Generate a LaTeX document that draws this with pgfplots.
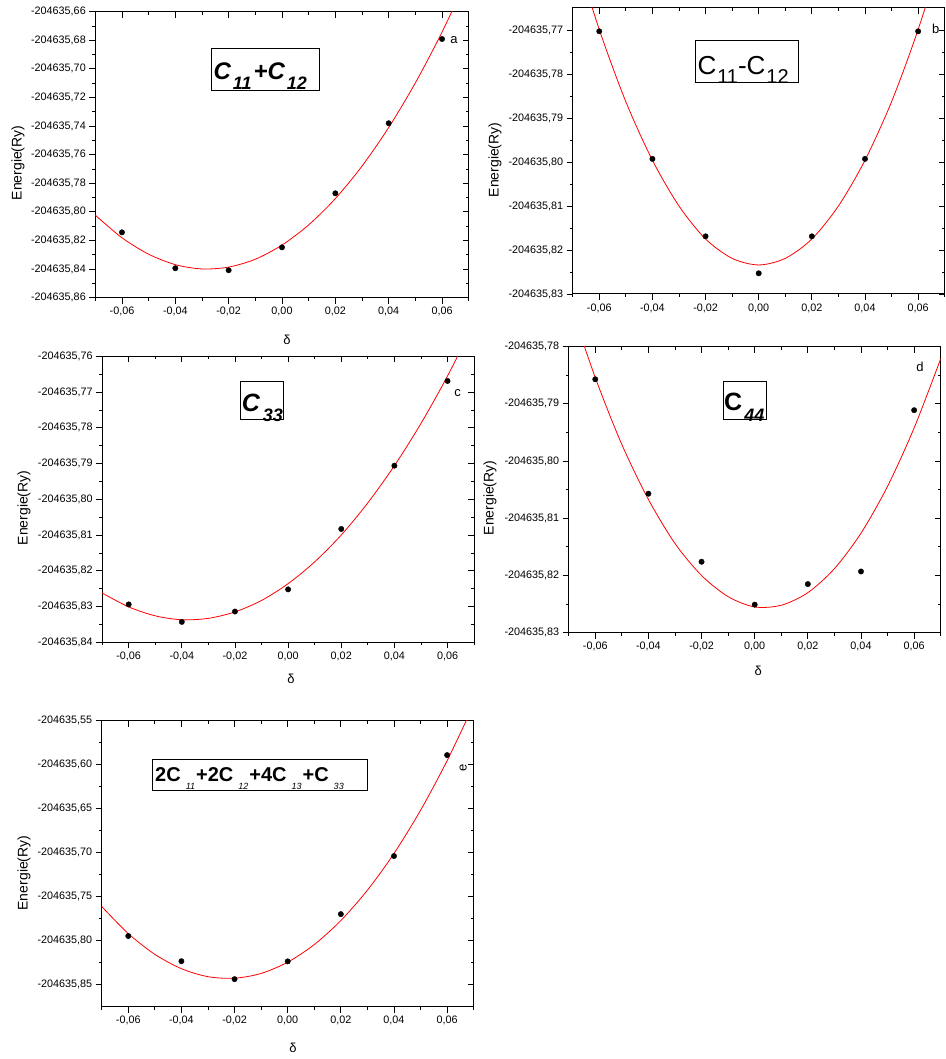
\documentclass[border=0pt]{standalone}
\usepackage{fontspec}
\setmainfont{Liberation Sans}
\usepackage{pgfplots}
\pgfplotsset{compat=1.18}

% y values are stored as E + 204635 (Ry); tick labels carry the full number
\pgfplotsset{
  panel/.style={
    scale only axis, anchor=south west,
    width=372pt, height=286pt,
    xmin=-0.07, xmax=0.07,
    scaled x ticks=false, scaled y ticks=false,
    xtick={-0.06,-0.04,-0.02,0,0.02,0.04,0.06},
    minor xtick={-0.07,-0.05,-0.03,-0.01,0.01,0.03,0.05,0.07},
    minor y tick num=1,
    axis line style={line width=1pt},
    major tick length=6pt, minor tick length=3pt,
    every tick/.style={black, line width=0.8pt},
    tick label style={font=\fontsize{10.8}{12}\selectfont},
  },
  front/.style={panel, tick align=outside, xtick pos=bottom, ytick pos=left,
    xticklabels={{-0,06},{-0,04},{-0,02},{0,00},{0,02},{0,04},{0,06}}},
  back/.style={panel, tick align=inside, xtick pos=top, ytick pos=right,
    xticklabels={}, yticklabels={}},
  pts/.style={only marks, mark=*, mark size=2.7pt, black},
  fit/.style={red, line width=0.8pt, smooth, no marks},
  pa/.style={at={(95.3pt,761.3pt)}, width=373.4pt, height=286pt, ymin=-0.86, ymax=-0.66,
    ytick={-0.86,-0.84,-0.82,-0.80,-0.78,-0.76,-0.74,-0.72,-0.70,-0.68,-0.66}},
  pb/.style={at={(572.7pt,765pt)}, ymin=-0.83, ymax=-0.765,
    ytick={-0.83,-0.82,-0.81,-0.80,-0.79,-0.78,-0.77}},
  pc/.style={at={(102.1pt,416.7pt)}, ymin=-0.84, ymax=-0.76,
    ytick={-0.84,-0.83,-0.82,-0.81,-0.80,-0.79,-0.78,-0.77,-0.76}},
  pd/.style={at={(568.7pt,426.3pt)}, ymin=-0.83, ymax=-0.78,
    ytick={-0.83,-0.82,-0.81,-0.80,-0.79,-0.78}},
  pe/.style={at={(101.7pt,52.3pt)}, ymin=-0.875, ymax=-0.55,
    ytick={-0.85,-0.80,-0.75,-0.70,-0.65,-0.60,-0.55}},
}
\newcommand{\sub}[3]{\raisebox{-#2}[0pt][0pt]{\fontsize{#1}{#1}\selectfont #3}}

\begin{document}
\begin{tikzpicture}[x=1pt,y=1pt]
\useasboundingbox (0,0) rectangle (945,1059);

% ---------- a : C11+C12 ----------
\begin{axis}[back, pa]\end{axis}
\begin{axis}[front, pa,
  yticklabels={{-204635,86},{-204635,84},{-204635,82},{-204635,80},{-204635,78},{-204635,76},{-204635,74},{-204635,72},{-204635,70},{-204635,68},{-204635,66}}]
\addplot[fit] coordinates {(-0.07,-0.8023) (-0.06,-0.8181) (-0.05,-0.8296) (-0.04,-0.8369) (-0.03,-0.8399) (-0.02,-0.8386) (-0.01,-0.8331) (0,-0.8232) (0.01,-0.8091) (0.02,-0.7907) (0.03,-0.7680) (0.04,-0.7410) (0.05,-0.7098) (0.06,-0.6743) (0.07,-0.6345)};
\addplot[pts] coordinates {(-0.06,-0.8143) (-0.04,-0.8394) (-0.02,-0.8408) (0,-0.8248) (0.02,-0.7870) (0.04,-0.7380) (0.06,-0.6791)};
\end{axis}

% ---------- b : C11-C12 ----------
\begin{axis}[back, pb]\end{axis}
\begin{axis}[front, pb,
  yticklabels={{-204635,83},{-204635,82},{-204635,81},{-204635,80},{-204635,79},{-204635,78},{-204635,77}}]
\addplot[fit] coordinates {(-0.07,-0.7506) (-0.06,-0.7699) (-0.05,-0.7863) (-0.04,-0.7996) (-0.03,-0.8100) (-0.02,-0.8175) (-0.01,-0.8219) (0,-0.8234) (0.01,-0.8219) (0.02,-0.8175) (0.03,-0.8100) (0.04,-0.7996) (0.05,-0.7863) (0.06,-0.7699) (0.07,-0.7506)};
\addplot[pts] coordinates {(-0.06,-0.7703) (-0.04,-0.7993) (-0.02,-0.8169) (0,-0.8253) (0.02,-0.8169) (0.04,-0.7993) (0.06,-0.7703)};
\end{axis}

% ---------- c : C33 ----------
\begin{axis}[back, pc]\end{axis}
\begin{axis}[front, pc,
  yticklabels={{-204635,84},{-204635,83},{-204635,82},{-204635,81},{-204635,80},{-204635,79},{-204635,78},{-204635,77},{-204635,76}}]
\addplot[fit] coordinates {(-0.07,-0.8262) (-0.06,-0.8301) (-0.05,-0.8326) (-0.04,-0.8337) (-0.03,-0.8333) (-0.02,-0.8315) (-0.01,-0.8283) (0,-0.8236) (0.01,-0.8175) (0.02,-0.8100) (0.03,-0.8010) (0.04,-0.7906) (0.05,-0.7788) (0.06,-0.7655) (0.07,-0.7508)};
\addplot[pts] coordinates {(-0.06,-0.8294) (-0.04,-0.8343) (-0.02,-0.8314) (0,-0.8252) (0.02,-0.8083) (0.04,-0.7906) (0.06,-0.7669)};
\end{axis}

% ---------- d : C44 ----------
\begin{axis}[back, pd]\end{axis}
\begin{axis}[front, pd,
  yticklabels={{-204635,83},{-204635,82},{-204635,81},{-204635,80},{-204635,79},{-204635,78}}]
\addplot[fit] coordinates {(-0.07,-0.7718) (-0.06,-0.7854) (-0.05,-0.7971) (-0.04,-0.8067) (-0.03,-0.8144) (-0.02,-0.8200) (-0.01,-0.8237) (0,-0.8255) (0.01,-0.8252) (0.02,-0.8230) (0.03,-0.8188) (0.04,-0.8126) (0.05,-0.8044) (0.06,-0.7942) (0.07,-0.7821)};
\addplot[pts] coordinates {(-0.06,-0.7857) (-0.04,-0.8057) (-0.02,-0.8176) (0,-0.8251) (0.02,-0.8215) (0.04,-0.8193) (0.06,-0.7911)};
\end{axis}

% ---------- e : 2C11+2C12+4C13+C33 ----------
\begin{axis}[back, pe]\end{axis}
\begin{axis}[front, pe,
  yticklabels={{-204635,85},{-204635,80},{-204635,75},{-204635,70},{-204635,65},{-204635,60},{-204635,55}}]
\addplot[fit] coordinates {(-0.07,-0.7611) (-0.06,-0.7919) (-0.05,-0.8155) (-0.04,-0.8318) (-0.03,-0.8409) (-0.02,-0.8426) (-0.01,-0.8372) (0,-0.8244) (0.01,-0.8044) (0.02,-0.7771) (0.03,-0.7426) (0.04,-0.7009) (0.05,-0.6518) (0.06,-0.5954) (0.07,-0.5319)};
\addplot[pts] coordinates {(-0.06,-0.7947) (-0.04,-0.8233) (-0.02,-0.8437) (0,-0.8235) (0.02,-0.7698) (0.04,-0.7038) (0.06,-0.5891)};
\end{axis}

% ---------- axis titles ----------
\foreach \px/\py in {18/896, 495/899, 24/551, 490/561, 24/186}
  \node[rotate=90, font=\fontsize{14}{16}\selectfont] at (\px,\py) {Energie(Ry)};
\foreach \px/\py in {287/719, 291/379.7, 758.3/388, 293/10.7}
  \node[font=\fontsize{13}{15}\selectfont] at (\px,\py) {δ};

% ---------- panel letters ----------
\node[font=\fontsize{13}{15}\selectfont] at (454,1019) {a};
\node[font=\fontsize{13}{15}\selectfont] at (935.7,1029.7) {b};
\node[font=\fontsize{13}{15}\selectfont] at (457.7,665.7) {c};
\node[font=\fontsize{13}{15}\selectfont] at (920,691.7) {d};
\node[font=\fontsize{13}{15}\selectfont, rotate=90] at (463.3,290.7) {e};

% ---------- boxed labels ----------
\draw[line width=0.9pt] (211.7,1010.7) rectangle (319,969);
\node[anchor=base west, inner sep=0] at (213.3,979.7)
  {\fontsize{24}{24}\selectfont\bfseries\itshape C\hspace{2pt}\sub{18}{10pt}{11}\hspace{2pt}+C\hspace{2pt}\sub{18}{10pt}{12}};

\draw[line width=0.9pt] (695,1019) rectangle (798.3,976.3);
\node[anchor=base west, inner sep=0] at (697.3,984)
  {\fontsize{26}{26}\selectfont C\hspace{1pt}\sub{20}{9pt}{11}-C\hspace{1pt}\sub{20}{9pt}{12}};

\draw[line width=0.9pt] (240.3,678) rectangle (283.7,639.7);
\node[anchor=base west, inner sep=0] at (241.7,647.3)
  {\fontsize{25}{25}\selectfont\bfseries\itshape C\hspace{3pt}\sub{18}{10pt}{33}};

\draw[line width=0.9pt] (723.3,678) rectangle (766.7,639.7);
\node[anchor=base west, inner sep=0] at (724,648)
  {\fontsize{25}{25}\selectfont\bfseries C\hspace{2pt}\sub{18}{10.5pt}{\itshape 44}};

\draw[line width=0.9pt] (152.3,299.7) rectangle (367.3,269);
\node[anchor=base west, inner sep=0] at (155,277.3)
  {\fontsize{20}{20}\selectfont\bfseries 2C\hspace{5pt}\sub{9}{7.5pt}{\mdseries\itshape 11}\hspace{1pt}+2C\hspace{5pt}\sub{9}{7.5pt}{\mdseries\itshape 12}\hspace{1pt}+4C\hspace{5pt}\sub{9}{7.5pt}{\mdseries\itshape 13}\hspace{1pt}+C\hspace{5pt}\sub{9}{7.5pt}{\mdseries\itshape 33}};

\end{tikzpicture}
\end{document}
